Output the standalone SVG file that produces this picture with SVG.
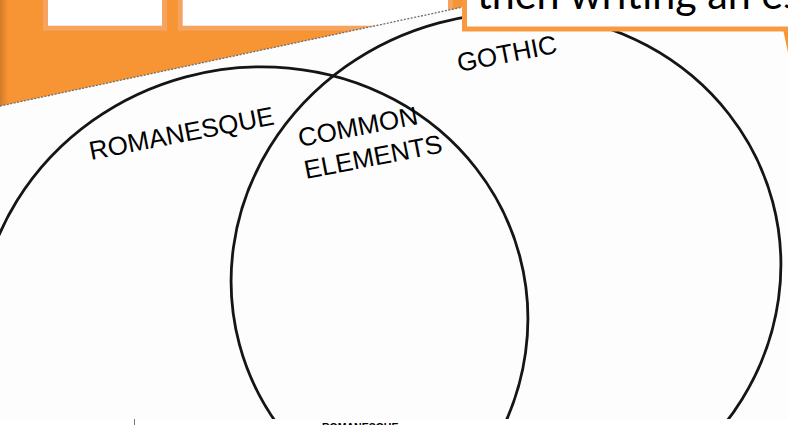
<svg xmlns="http://www.w3.org/2000/svg" width="788" height="425" viewBox="0 0 788 425">
<defs>
<style>
.lbl{font-family:"Liberation Sans",Arial,sans-serif;font-size:26px;fill:#000}
.ring{fill:none;stroke:#151515;stroke-width:2.8}
.hbox{fill:#fff;stroke:#F6A35F;stroke-width:5}
</style>
<linearGradient id="edge" x1="0" x2="1" y1="0" y2="0">
<stop offset="0" stop-color="#d27a28"/>
<stop offset="1" stop-color="#F79433"/>
</linearGradient>
<clipPath id="tbclip"><rect x="467" y="-10" width="330" height="36.5"/></clipPath>
</defs>
<rect width="788" height="425" fill="#F79433"/>
<rect x="0" y="0" width="8" height="120" fill="url(#edge)"/>
<g id="header-boxes">
<rect class="hbox" x="45.5" y="-10" width="119" height="38.2"/>
<rect class="hbox" x="180.2" y="-10" width="270.3" height="38.2"/>
</g>
<g id="venn-image">
<polygon points="0,106 495.8,0 776.8,0 788,52.4 788,425 0,425" fill="#FDFDFD"/>
<line x1="0" y1="106" x2="495.8" y2="0" stroke="#6e6e6e" stroke-width="1.3" stroke-dasharray="2 1.5"/>
<g id="romanesque">
<ellipse class="ring" cx="253" cy="327" rx="276" ry="259" transform="rotate(-15 253 327)"/>
<text class="lbl" x="91" y="160" transform="rotate(-11 91 160)">ROMANESQUE</text>
</g>
<g id="gothic">
<ellipse class="ring" cx="506" cy="273" rx="276" ry="259" transform="rotate(-15 506 273)"/>
<text class="lbl" x="459" y="72" transform="rotate(-11 459 72)">GOTHIC</text>
</g>
<g id="common">
<text class="lbl" x="300" y="147" transform="rotate(-11 300 147)">COMMON</text>
<text class="lbl" x="306" y="179" transform="rotate(-11 306 179)">ELEMENTS</text>
</g>
</g>
<g id="lower-table">
<rect x="0" y="419" width="788" height="6" fill="#FFFFFF"/>
<line x1="134.5" y1="419" x2="134.5" y2="425" stroke="#777" stroke-width="1"/>
<text x="322" y="431" font-family="Liberation Sans, Arial, sans-serif" font-size="10.5" font-weight="bold" fill="#000">ROMANESQUE</text>
</g>
<g id="text-box">
<rect x="464.5" y="-10" width="330" height="39" fill="#fff" stroke="#F89B40" stroke-width="5"/>
<g clip-path="url(#tbclip)">
<text x="477" y="9" font-family="Lato, 'Open Sans', sans-serif" font-size="43" textLength="324" lengthAdjust="spacingAndGlyphs" fill="#000">then writing an es</text>
</g>
</g>
</svg>
